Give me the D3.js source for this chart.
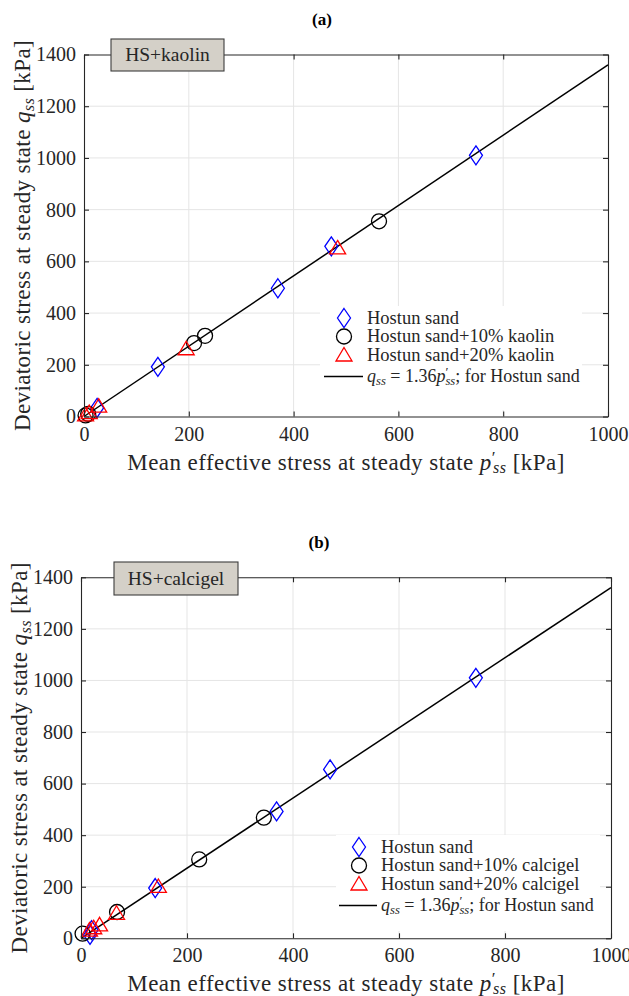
<!DOCTYPE html>
<html>
<head>
<meta charset="utf-8">
<script src="https://cdn.jsdelivr.net/npm/d3@7"></script>
<style>
  html, body { margin: 0; padding: 0; background: #fff; }
  svg { display: block; }
</style>
</head>
<body>
<svg id="fig" width="629" height="996" style="font-family: 'Liberation Serif', 'Times New Roman', 'DejaVu Serif', serif;"></svg>
<script>
const SERIF = "'Liberation Serif', 'Times New Roman', 'DejaVu Serif', serif";

// Axis ticks (kPa)
const pTicks = [0, 200, 400, 600, 800, 1000];
const qTicks = [0, 200, 400, 600, 800, 1000, 1200, 1400];
const slope = 1.36; // q_ss = 1.36 p'_ss fitted for Hostun sand

// Panel (a): Hostun sand with kaolin, points as [p'_ss, q_ss]
const sandA    = [[748, 1010], [472, 658], [370, 496], [141, 192], [25, 33]];
const kaolin10 = [[563, 755], [231, 312], [210, 284], [3, 4], [8, 10]];
const kaolin20 = [[484, 652], [195, 262], [28, 40], [10, 15], [3, 6]];

// Panel (b): Hostun sand with calcigel
const sandB      = [[745, 1010], [470, 655], [369, 492], [140, 195], [20, 32], [17, 13]];
const calcigel10 = [[345, 468], [223, 306], [68, 102], [3, 18]];
const calcigel20 = [[146, 201], [67, 97], [35, 52], [24, 41], [16, 32]];

const svg = d3.select("#fig");

function serifText(sel) {
  return sel.style("font-family", SERIF).attr("fill", "#262626");
}

function symbolPath(kind) {
  if (kind === "diamond") return "M0,-9.5L6.5,0L0,9.5L-6.5,0Z";
  if (kind === "circle") return d3.arc()({innerRadius: 0, outerRadius: 7.5, startAngle: 0, endAngle: 2 * Math.PI});
  return "M0,-7.5L8,6L-8,6Z";
}

function drawMarker(g, kind, color, x, y) {
  g.append("path")
    .attr("d", symbolPath(kind))
    .attr("transform", `translate(${x},${y})`)
    .attr("fill", "none")
    .attr("stroke", color)
    .attr("stroke-width", 1.3);
}

// Writes "q_ss = 1.36p'_ss; for Hostun sand" as math-styled text
function lawText(t) {
  t.append("tspan").attr("font-style", "italic").text("q");
  t.append("tspan").attr("font-style", "italic").attr("font-size", "0.7em").attr("dy", 3).text("ss");
  t.append("tspan").attr("dy", -3).text(" = 1.36");
  t.append("tspan").attr("font-style", "italic").text("p");
  t.append("tspan").attr("font-size", "0.75em").attr("dy", -6).text("\u2032");
  t.append("tspan").attr("font-style", "italic").attr("font-size", "0.7em").attr("dy", 9).attr("dx", -3).text("ss");
  t.append("tspan").attr("dy", -3).text("; for Hostun sand");
}

function drawPanel(cfg) {
  const x = d3.scaleLinear().domain([0, 1000]).range([cfg.left, cfg.right]);
  const y = d3.scaleLinear().domain([0, 1400]).range([cfg.bottom, cfg.top]);
  const g = svg.append("g");

  // grid
  g.append("g").selectAll("line").data(pTicks.slice(1, -1)).join("line")
    .attr("x1", d => x(d)).attr("x2", d => x(d))
    .attr("y1", cfg.top).attr("y2", cfg.bottom)
    .attr("stroke", "#e5e5e5").attr("stroke-width", 1);
  g.append("g").selectAll("line").data(qTicks.slice(1, -1)).join("line")
    .attr("y1", d => y(d)).attr("y2", d => y(d))
    .attr("x1", cfg.left).attr("x2", cfg.right)
    .attr("stroke", "#e5e5e5").attr("stroke-width", 1);

  // fitted line
  g.append("line")
    .attr("x1", x(0)).attr("y1", y(0))
    .attr("x2", x(1000)).attr("y2", y(slope * 1000))
    .attr("stroke", "#000").attr("stroke-width", 1.5);

  // markers
  cfg.series.forEach(s => {
    s.data.forEach(([p, q]) => drawMarker(g, s.kind, s.color, x(p), y(q)));
  });

  // legend
  const L = cfg.legend;
  g.append("rect").attr("x", L.x).attr("y", L.y).attr("width", L.w).attr("height", L.h)
    .attr("fill", "#fff");
  cfg.series.forEach((s, i) => {
    const cy = L.y + 12 + i * 18.5;
    drawMarker(g, s.kind, s.color, L.x + L.mx, cy);
    serifText(g.append("text")).attr("x", L.x + L.tx).attr("y", cy + 5.5)
      .attr("font-size", 18.5).text(s.name);
  });
  const ly = L.y + 12 + 3 * 18.5 + 3;
  g.append("line").attr("x1", L.x + L.lx0).attr("x2", L.x + L.lx1)
    .attr("y1", ly).attr("y2", ly).attr("stroke", "#000").attr("stroke-width", 1.5);
  lawText(serifText(g.append("text")).attr("x", L.x + L.tx).attr("y", ly + 5.5).attr("font-size", 18));

  // axes box with inward ticks on all sides
  const tl = 5;
  const fmt = d3.format("d");
  const axB = d3.axisBottom(x).tickValues(pTicks).tickFormat(fmt).tickSizeInner(-tl).tickSizeOuter(0).tickPadding(10);
  const axL = d3.axisLeft(y).tickValues(qTicks).tickFormat(fmt).tickSizeInner(-tl).tickSizeOuter(0).tickPadding(8);
  const axT = d3.axisTop(x).tickValues(pTicks).tickSizeInner(-tl).tickSizeOuter(0).tickFormat("");
  const axR = d3.axisRight(y).tickValues(qTicks).tickSizeInner(-tl).tickSizeOuter(0).tickFormat("");
  const styleAx = a => {
    a.attr("font-family", null).attr("font-size", null);
    a.selectAll("path").attr("stroke", "#262626").attr("stroke-width", 1.1);
    a.selectAll("line").attr("stroke", "#262626").attr("stroke-width", 1.1);
    serifText(a.selectAll("text")).attr("font-size", 20);
  };
  styleAx(g.append("g").attr("transform", `translate(0,${cfg.bottom})`).call(axB));
  styleAx(g.append("g").attr("transform", `translate(${cfg.left},0)`).call(axL));
  styleAx(g.append("g").attr("transform", `translate(0,${cfg.top})`).call(axT));
  styleAx(g.append("g").attr("transform", `translate(${cfg.right},0)`).call(axR));

  // panel tag box
  const B = cfg.tag;
  g.append("rect").attr("x", B.x).attr("y", B.y).attr("width", B.w).attr("height", B.h)
    .attr("fill", "#d4d0c8").attr("stroke", "#3c3c3c").attr("stroke-width", 1.1);
  serifText(g.append("text")).attr("x", B.x + B.w / 2).attr("y", B.y + B.h / 2 + 6)
    .attr("text-anchor", "middle").attr("font-size", 19.5).text(B.text);

  // title
  serifText(g.append("text")).attr("x", cfg.titleX).attr("y", cfg.titleY)
    .attr("text-anchor", "middle").attr("font-size", 17).attr("font-weight", "bold")
    .attr("fill", "#000").text(cfg.title);

  // x label
  const xl = serifText(g.append("text")).attr("x", (cfg.left + cfg.right) / 2).attr("y", cfg.bottom + 53)
    .attr("text-anchor", "middle").attr("font-size", 23).attr("letter-spacing", 0.45);
  xl.append("tspan").text("Mean effective stress at steady state ");
  xl.append("tspan").attr("font-style", "italic").text("p");
  xl.append("tspan").attr("font-size", "0.75em").attr("dy", -7).text("\u2032");
  xl.append("tspan").attr("font-style", "italic").attr("font-size", "0.7em").attr("dy", 10).attr("dx", -3).text("ss");
  xl.append("tspan").attr("dy", -3).text(" [kPa]");

  // y label
  const yc = (cfg.top + cfg.bottom) / 2;
  const yl = serifText(g.append("text")).attr("transform", `translate(${cfg.ylabX},${yc}) rotate(-90)`)
    .attr("text-anchor", "middle").attr("font-size", 23).attr("letter-spacing", 0.4);
  yl.append("tspan").text("Deviatoric stress at steady state ");
  yl.append("tspan").attr("font-style", "italic").text("q");
  yl.append("tspan").attr("font-style", "italic").attr("font-size", "0.7em").attr("dy", 4).text("ss");
  yl.append("tspan").attr("dy", -4).text(" [kPa]");
}

drawPanel({
  left: 84, right: 608, top: 54.5, bottom: 416.5,
  title: "(a)", titleX: 322, titleY: 25, ylabX: 30,
  tag: {x: 111, y: 39, w: 113, h: 32, text: "HS+kaolin"},
  legend: {x: 320, y: 306, w: 262, h: 104, mx: 24, tx: 47, lx0: 4, lx1: 43},
  series: [
    {name: "Hostun sand", kind: "diamond", color: "#0000ff", data: sandA},
    {name: "Hostun sand+10% kaolin", kind: "circle", color: "#000000", data: kaolin10},
    {name: "Hostun sand+20% kaolin", kind: "triangle", color: "#ff0000", data: kaolin20}
  ]
});

drawPanel({
  left: 81, right: 611, top: 577.3, bottom: 938.3,
  title: "(b)", titleX: 319, titleY: 548, ylabX: 27,
  tag: {x: 114, y: 562, w: 124, h: 33, text: "HS+calcigel"},
  legend: {x: 336, y: 835, w: 264, h: 96, mx: 23, tx: 45, lx0: 3, lx1: 41},
  series: [
    {name: "Hostun sand", kind: "diamond", color: "#0000ff", data: sandB},
    {name: "Hostun sand+10% calcigel", kind: "circle", color: "#000000", data: calcigel10},
    {name: "Hostun sand+20% calcigel", kind: "triangle", color: "#ff0000", data: calcigel20}
  ]
});
</script>
</body>
</html>
